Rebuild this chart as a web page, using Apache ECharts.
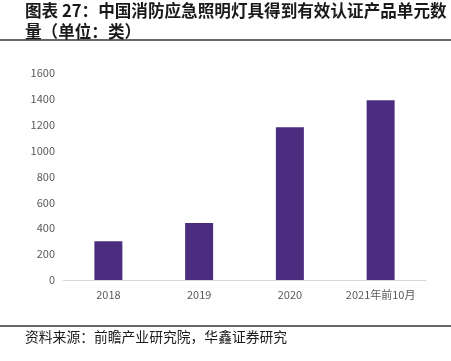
<!DOCTYPE html>
<html><head><meta charset="utf-8">
<script src="https://cdn.jsdelivr.net/npm/echarts@6/dist/echarts.min.js"></script>
<style>html,body{margin:0;padding:0;background:#fff}#c{width:451px;height:361px}</style>
</head><body><div id="c"></div>
<script>
const categories = ['2018', '2019', '2020', '2021年前10月'];
const values = [300, 440, 1180, 1390];
const yTicks = [0, 200, 400, 600, 800, 1000, 1200, 1400, 1600];
const titleLines = ['图表 27：中国消防应急照明灯具得到有效认证产品单元数', '量（单位：类）'];
const sourceText = '资料来源：前瞻产业研究院，华鑫证券研究';

const chart = echarts.init(document.getElementById('c'), null, {renderer: 'canvas'});
chart.setOption({
  animation: false,
  backgroundColor: '#fff',
  grid: {left: 63, right: 25, top: 73, bottom: 81},
  xAxis: {
    type: 'category', data: categories,
    axisLine: {lineStyle: {color: '#d9d9d9', width: 1}},
    axisTick: {show: false},
    axisLabel: {color: '#595959', fontSize: 11, margin: 9, fontFamily: 'Noto Sans CJK SC'}
  },
  yAxis: {
    type: 'value', min: yTicks[0], max: yTicks[yTicks.length-1], interval: 200,
    axisLine: {show: false}, axisTick: {show: false},
    splitLine: {show: false},
    axisLabel: {color: '#595959', fontSize: 11, margin: 8, fontFamily: 'Noto Sans CJK SC',
      formatter: v => String(v)}
  },
  series: [{
    type: 'bar', data: values, barWidth: 28,
    itemStyle: {color: '#4b2d80'}
  }],
  graphic: [
    {type: 'text', left: 25, top: 2, style: {text: titleLines[0], font: 'bold 16.6px "Noto Sans CJK SC"', fill: '#1a1a1a'}},
    {type: 'text', left: 25, top: 23, style: {text: titleLines[1], font: 'bold 16.6px "Noto Sans CJK SC"', fill: '#1a1a1a'}},
    {type: 'line', shape: {x1: 0, y1: 40, x2: 451, y2: 40}, style: {stroke: '#333', lineWidth: 1.5}},
    {type: 'line', shape: {x1: 0, y1: 326, x2: 451, y2: 326}, style: {stroke: '#333', lineWidth: 1.5}},
    {type: 'text', left: 25, top: 330, style: {text: sourceText, font: '13.8px "Noto Sans CJK SC"', fill: '#1a1a1a'}}
  ]
});
</script></body></html>
